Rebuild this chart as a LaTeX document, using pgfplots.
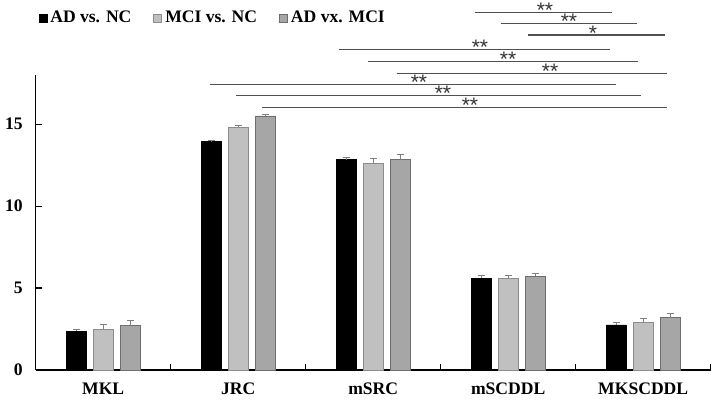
\documentclass[border=0pt]{standalone}
\usepackage{fontspec}
\setmainfont{Liberation Serif}
\newfontfamily\starfont{Liberation Sans}
\usepackage{pgfplots}
\pgfplotsset{compat=1.18}
\definecolor{lg}{HTML}{C0C0C0}
\definecolor{dg}{HTML}{A6A6A6}
\definecolor{lgb}{HTML}{8C8C8C}
\definecolor{dgb}{HTML}{6E6E6E}
\definecolor{sig}{HTML}{505050}
\begin{document}
\begin{tikzpicture}
\begin{axis}[name=ax, scale only axis, width=337.5pt, height=147.5pt,
  xmin=-0.5, xmax=4.5, ymin=0, ymax=18, clip=false,
  axis x line*=bottom, axis y line*=left,
  axis line style={line width=0.75pt, -},
  xtick={0,1,2,3,4}, xticklabels={MKL,JRC,mSRC,mSCDDL,MKSCDDL},
  major x tick style={draw=none},
  minor xtick={0.5,1.5,2.5,3.5,4.5},
  ytick={0,5,10,15}, yticklabels={{0\hspace{5pt}},5,10,15},
  tick align=inside, tick style={black, line width=0.6pt},
  major tick length=3pt, minor tick length=3pt,
  /pgf/number format/assume math mode=true,
  ticklabel style={font=\fontsize{8.8}{10}\selectfont\bfseries},
  xticklabel style={yshift=-3pt},
  yticklabel style={xshift=-3pt},
  legend columns=3,
  legend style={draw=none, at={(0,1)}, anchor=west, xshift=1.2pt, yshift=28.2pt,
    inner xsep=0pt, inner ysep=0pt,
    font=\fontsize{8.8}{10}\selectfont\bfseries,
    nodes={inner xsep=1.5pt, inner ysep=1pt},
    /tikz/every even column/.append style={column sep=9.5pt}},
  legend image code/.code={\draw[#1] (0pt,-2pt) rectangle (4pt,2pt);},
  error bars/error bar style={color=gray, line width=0.5pt},
  error bars/error mark options={rotate=90, mark size=1.8pt, color=gray, line width=0.5pt},
]
\addplot[ybar, bar width=10pt, bar shift=0pt, fill=black, draw=black, line width=0.4pt,
  error bars/.cd, y dir=plus, y explicit]
  coordinates {(-0.2,2.35) +- (0,0.13) (0.8,13.92) +- (0,0.1) (1.8,12.82) +- (0,0.15) (2.8,5.6) +- (0,0.15) (3.8,2.75) +- (0,0.15)};
\addlegendentry{AD vs. NC}
\addplot[ybar, bar width=10pt, bar shift=0pt, fill=lg, draw=lgb, line width=0.4pt,
  error bars/.cd, y dir=plus, y explicit]
  coordinates {(0,2.5) +- (0,0.3) (1,14.82) +- (0,0.08) (2,12.6) +- (0,0.28) (3,5.6) +- (0,0.15) (4,2.88) +- (0,0.24)};
\addlegendentry{MCI vs. NC}
\addplot[ybar, bar width=10pt, bar shift=0pt, fill=dg, draw=dgb, line width=0.4pt,
  error bars/.cd, y dir=plus, y explicit]
  coordinates {(0.2,2.7) +- (0,0.33) (1.2,15.5) +- (0,0.1) (2.2,12.82) +- (0,0.3) (3.2,5.72) +- (0,0.18) (4.2,3.19) +- (0,0.27)};
\addlegendentry{AD vx. MCI}
% significance brackets
\addplot[forget plot, sharp plot, no marks, color=sig, line width=0.6pt] coordinates {(2.754,21.82) (3.768,21.82)};
\addplot[forget plot, sharp plot, no marks, color=sig, line width=0.6pt] coordinates {(2.944,21.13) (3.954,21.13)};
\addplot[forget plot, sharp plot, no marks, color=sig, line width=0.6pt] coordinates {(3.147,20.44) (4.161,20.44)};
\addplot[forget plot, sharp plot, no marks, color=sig, line width=0.6pt] coordinates {(1.747,19.57) (3.754,19.57)};
\addplot[forget plot, sharp plot, no marks, color=sig, line width=0.6pt] coordinates {(1.959,18.81) (3.961,18.81)};
\addplot[forget plot, sharp plot, no marks, color=sig, line width=0.6pt] coordinates {(2.174,18.11) (4.176,18.11)};
\addplot[forget plot, sharp plot, no marks, color=sig, line width=0.6pt] coordinates {(0.791,17.43) (3.796,17.43)};
\addplot[forget plot, sharp plot, no marks, color=sig, line width=0.6pt] coordinates {(0.984,16.74) (3.981,16.74)};
\addplot[forget plot, sharp plot, no marks, color=sig, line width=0.6pt] coordinates {(1.176,16.03) (4.176,16.03)};
\addplot[forget plot, sharp plot, draw=none, no marks,
  nodes near coords, point meta=explicit symbolic,
  nodes near coords style={anchor=base, yshift=-2.6pt, inner sep=0pt, color=black!80,
    font=\starfont\fontsize{10.5}{11}\selectfont}]
  table[meta=label] {
x y label
3.272 21.82 **
3.450 21.13 **
3.628 20.44 *
2.791 19.57 **
2.999 18.81 **
3.310 18.11 **
2.339 17.43 **
2.517 16.74 **
2.717 16.03 **
};
\end{axis}
\pgfresetboundingbox
\path ([xshift=-17.85pt, yshift=-16pt]ax.south west) rectangle ([xshift=2.15pt, yshift=37.5pt]ax.north east);
\end{tikzpicture}
\end{document}
